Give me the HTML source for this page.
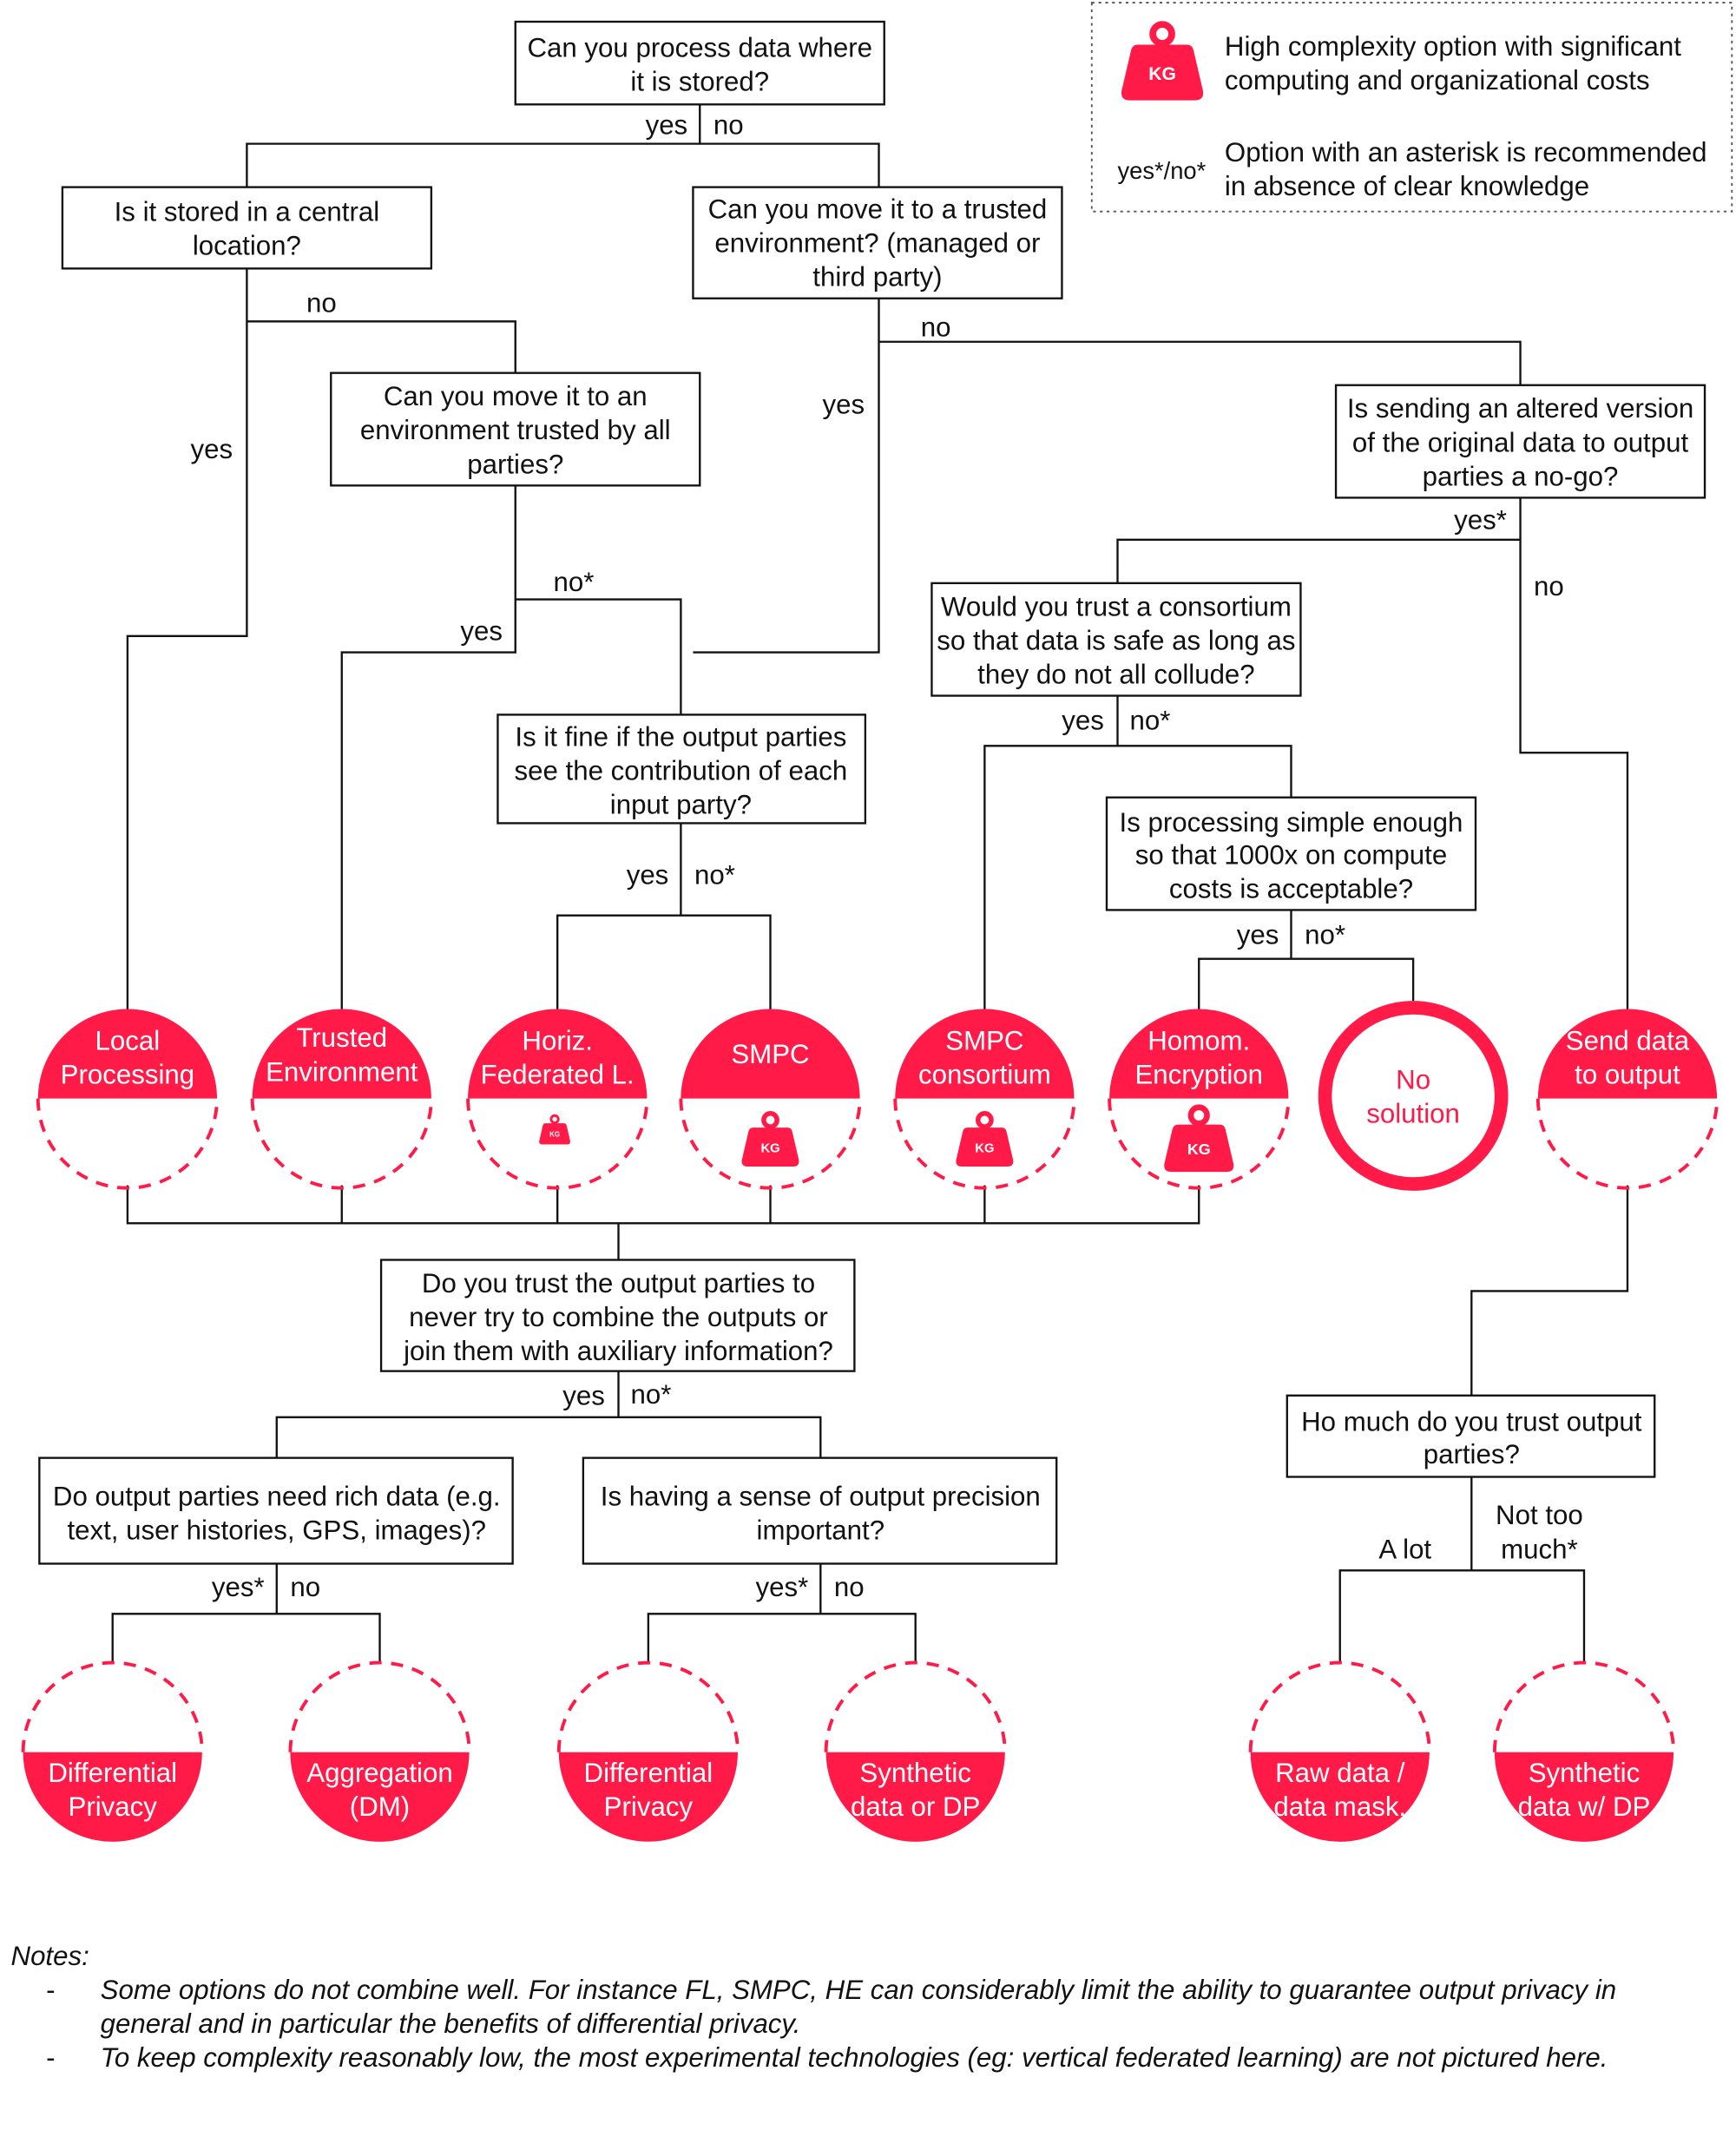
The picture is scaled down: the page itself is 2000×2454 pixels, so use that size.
<!DOCTYPE html>
<html><head><meta charset="utf-8"><style>
html,body{margin:0;padding:0;background:#fff}
svg{display:block}
text{font-family:"Liberation Sans",Arial,sans-serif;font-size:20px;fill:#111}
.w{fill:#fff}
.r{fill:#ff1a48}
.b{fill:#fff;stroke:#111;stroke-width:1.5}
.l{stroke:#111;stroke-width:1.5;fill:none}
.d{fill:none;stroke:#ff1a48;stroke-width:2.5;stroke-dasharray:9 7}
.it{font-style:italic}
</style></head><body>
<svg width="2000" height="2454" viewBox="0 0 1280 1570.6" xmlns="http://www.w3.org/2000/svg">
<defs>
<g id="kg">
<circle cx="0" cy="-23" r="7" fill="none" stroke="#ff1a48" stroke-width="5"/>
<path d="M-18,-15 L18,-15 Q22,-15 23,-11 L30,19 Q31,26 24,26 L-24,26 Q-31,26 -30,19 L-23,-11 Q-22,-15 -18,-15 Z" fill="#ff1a48"/>
<text x="0" y="11" text-anchor="middle" style="font-size:13.5px;font-weight:bold;fill:#fff">KG</text>
</g>
</defs>

<!-- legend -->
<rect x="805" y="2" width="472" height="154" fill="none" stroke="#555" stroke-width="1.2" stroke-dasharray="2 3"/>
<use href="#kg" x="857" y="48"/>
<text x="903" y="41">High complexity option with significant</text>
<text x="903" y="66">computing and organizational costs</text>
<text x="824" y="132" style="font-size:17.5px">yes*/no*</text>
<text x="903" y="119">Option with an asterisk is recommended</text>
<text x="903" y="144">in absence of clear knowledge</text>

<!-- connectors -->
<g class="l">
<path d="M516,77 V106 M182,138 V106 H648 V138"/>
<path d="M182,198 V469 H94 V745"/>
<path d="M182,237 H380 V275"/>
<path d="M380,358 V481 H252 V745"/>
<path d="M380,442 H502 V527"/>
<path d="M648,220 V481 H511"/>
<path d="M648,252 H1121 V284"/>
<path d="M1121,367 V555 H1200 V745"/>
<path d="M1121,398 H824 V430"/>
<path d="M824,513 V550 M726,745 V550 H952 V588"/>
<path d="M952,671 V707 M884,745 V707 H1042 V738"/>
<path d="M502,607 V675 M411,745 V675 H568 V745"/>
<path d="M94,874 V902 H884 V874 M252,874 V902 M411,874 V902 M568,874 V902 M726,874 V902 M456,902 V929"/>
<path d="M456,1011 V1045 M204,1075 V1045 H605 V1075"/>
<path d="M204,1153 V1190 M83,1226 V1190 H280 V1226"/>
<path d="M605,1153 V1190 M478,1226 V1190 H675 V1226"/>
<path d="M1200,874 V952 H1085 V1029"/>
<path d="M1085,1089 V1158 M988,1226 V1158 H1168 V1226"/>
</g>

<!-- boxes -->
<rect class="b" x="380" y="16" width="272" height="61"/>
<text x="516" y="42" text-anchor="middle">Can you process data where</text>
<text x="516" y="67" text-anchor="middle">it is stored?</text>
<text x="507" y="99" text-anchor="end">yes</text><text x="526" y="99">no</text>

<rect class="b" x="46" y="138" width="272" height="60"/>
<text x="182" y="163" text-anchor="middle">Is it stored in a central</text>
<text x="182" y="188" text-anchor="middle">location?</text>

<rect class="b" x="511" y="138" width="272" height="82"/>
<text x="647" y="161" text-anchor="middle">Can you move it to a trusted</text>
<text x="647" y="186" text-anchor="middle">environment? (managed or</text>
<text x="647" y="211" text-anchor="middle">third party)</text>

<text x="237" y="230" text-anchor="middle">no</text>
<text x="156" y="338" text-anchor="middle">yes</text>
<text x="622" y="305" text-anchor="middle">yes</text>
<text x="690" y="248" text-anchor="middle">no</text>

<rect class="b" x="244" y="275" width="272" height="83"/>
<text x="380" y="299" text-anchor="middle">Can you move it to an</text>
<text x="380" y="324" text-anchor="middle">environment trusted by all</text>
<text x="380" y="349" text-anchor="middle">parties?</text>
<text x="423" y="436" text-anchor="middle">no*</text>
<text x="355" y="472" text-anchor="middle">yes</text>

<rect class="b" x="985" y="284" width="272" height="83"/>
<text x="1121" y="308" text-anchor="middle">Is sending an altered version</text>
<text x="1121" y="333" text-anchor="middle">of the original data to output</text>
<text x="1121" y="358" text-anchor="middle">parties a no-go?</text>
<text x="1111" y="390" text-anchor="end">yes*</text>
<text x="1142" y="439" text-anchor="middle">no</text>

<rect class="b" x="687" y="430" width="272" height="83"/>
<text x="823" y="454" text-anchor="middle">Would you trust a consortium</text>
<text x="823" y="479" text-anchor="middle">so that data is safe as long as</text>
<text x="823" y="504" text-anchor="middle">they do not all collude?</text>
<text x="814" y="538" text-anchor="end">yes</text><text x="833" y="538">no*</text>

<rect class="b" x="367" y="527" width="271" height="80"/>
<text x="502" y="550" text-anchor="middle">Is it fine if the output parties</text>
<text x="502" y="575" text-anchor="middle">see the contribution of each</text>
<text x="502" y="600" text-anchor="middle">input party?</text>
<text x="493" y="652" text-anchor="end">yes</text><text x="512" y="652">no*</text>

<rect class="b" x="816" y="588" width="272" height="83"/>
<text x="952" y="613" text-anchor="middle">Is processing simple enough</text>
<text x="952" y="637" text-anchor="middle">so that 1000x on compute</text>
<text x="952" y="662" text-anchor="middle">costs is acceptable?</text>
<text x="943" y="696" text-anchor="end">yes</text><text x="962" y="696">no*</text>

<!-- row 1 circles: top filled -->
<g>
<path class="r" d="M28,810 A66,66 0 0 1 160,810 Z"/><path class="d" d="M28,810 A66,66 0 0 0 160,810"/>
<text class="w" x="94" y="774" text-anchor="middle">Local</text><text class="w" x="94" y="799" text-anchor="middle">Processing</text>

<path class="r" d="M186,810 A66,66 0 0 1 318,810 Z"/><path class="d" d="M186,810 A66,66 0 0 0 318,810"/>
<text class="w" x="252" y="772" text-anchor="middle">Trusted</text><text class="w" x="252" y="797" text-anchor="middle">Environment</text>

<path class="r" d="M345,810 A66,66 0 0 1 477,810 Z"/><path class="d" d="M345,810 A66,66 0 0 0 477,810"/>
<text class="w" x="411" y="774" text-anchor="middle">Horiz.</text><text class="w" x="411" y="799" text-anchor="middle">Federated L.</text>
<use href="#kg" transform="translate(409,834) scale(0.38)"/>

<path class="r" d="M502,810 A66,66 0 0 1 634,810 Z"/><path class="d" d="M502,810 A66,66 0 0 0 634,810"/>
<text class="w" x="568" y="784" text-anchor="middle">SMPC</text>
<use href="#kg" transform="translate(568,842) scale(0.7)"/>

<path class="r" d="M660,810 A66,66 0 0 1 792,810 Z"/><path class="d" d="M660,810 A66,66 0 0 0 792,810"/>
<text class="w" x="726" y="774" text-anchor="middle">SMPC</text><text class="w" x="726" y="799" text-anchor="middle">consortium</text>
<use href="#kg" transform="translate(726,842) scale(0.7)"/>

<path class="r" d="M818,810 A66,66 0 0 1 950,810 Z"/><path class="d" d="M818,810 A66,66 0 0 0 950,810"/>
<text class="w" x="884" y="774" text-anchor="middle">Homom.</text><text class="w" x="884" y="799" text-anchor="middle">Encryption</text>
<use href="#kg" transform="translate(884,842) scale(0.85)"/>

<circle cx="1042" cy="808" r="65" fill="none" stroke="#ff1a48" stroke-width="10"/>
<text class="r" x="1042" y="803" text-anchor="middle">No</text><text class="r" x="1042" y="828" text-anchor="middle">solution</text>

<path class="r" d="M1134,810 A66,66 0 0 1 1266,810 Z"/><path class="d" d="M1134,810 A66,66 0 0 0 1266,810"/>
<text class="w" x="1200" y="774" text-anchor="middle">Send data</text><text class="w" x="1200" y="799" text-anchor="middle">to output</text>
</g>

<rect class="b" x="281" y="929" width="349" height="82"/>
<text x="456" y="953" text-anchor="middle">Do you trust the output parties to</text>
<text x="456" y="978" text-anchor="middle">never try to combine the outputs or</text>
<text x="456" y="1003" text-anchor="middle">join them with auxiliary information?</text>
<text x="446" y="1036" text-anchor="end">yes</text><text x="465" y="1035">no*</text>

<rect class="b" x="29" y="1075" width="349" height="78"/>
<text x="204" y="1110" text-anchor="middle">Do output parties need rich data (e.g.</text>
<text x="204" y="1135" text-anchor="middle">text, user histories, GPS, images)?</text>
<text x="195" y="1177" text-anchor="end">yes*</text><text x="214" y="1177">no</text>

<rect class="b" x="430" y="1075" width="349" height="78"/>
<text x="605" y="1110" text-anchor="middle">Is having a sense of output precision</text>
<text x="605" y="1135" text-anchor="middle">important?</text>
<text x="596" y="1177" text-anchor="end">yes*</text><text x="615" y="1177">no</text>

<rect class="b" x="949" y="1029" width="271" height="60"/>
<text x="1085" y="1055" text-anchor="middle">Ho much do you trust output</text>
<text x="1085" y="1079" text-anchor="middle">parties?</text>
<text x="1036" y="1149" text-anchor="middle">A lot</text>
<text x="1135" y="1124" text-anchor="middle">Not too</text>
<text x="1135" y="1149" text-anchor="middle">much*</text>

<!-- row 2 circles: bottom filled -->
<g>
<path class="d" d="M17,1292 A66,66 0 0 1 149,1292"/><path class="r" d="M17,1292 A66,66 0 0 0 149,1292 Z"/>
<text class="w" x="83" y="1314" text-anchor="middle">Differential</text><text class="w" x="83" y="1339" text-anchor="middle">Privacy</text>
<path class="d" d="M214,1292 A66,66 0 0 1 346,1292"/><path class="r" d="M214,1292 A66,66 0 0 0 346,1292 Z"/>
<text class="w" x="280" y="1314" text-anchor="middle">Aggregation</text><text class="w" x="280" y="1339" text-anchor="middle">(DM)</text>
<path class="d" d="M412,1292 A66,66 0 0 1 544,1292"/><path class="r" d="M412,1292 A66,66 0 0 0 544,1292 Z"/>
<text class="w" x="478" y="1314" text-anchor="middle">Differential</text><text class="w" x="478" y="1339" text-anchor="middle">Privacy</text>
<path class="d" d="M609,1292 A66,66 0 0 1 741,1292"/><path class="r" d="M609,1292 A66,66 0 0 0 741,1292 Z"/>
<text class="w" x="675" y="1314" text-anchor="middle">Synthetic</text><text class="w" x="675" y="1339" text-anchor="middle">data or DP</text>
<path class="d" d="M922,1292 A66,66 0 0 1 1054,1292"/><path class="r" d="M922,1292 A66,66 0 0 0 1054,1292 Z"/>
<text class="w" x="988" y="1314" text-anchor="middle">Raw data /</text><text class="w" x="988" y="1339" text-anchor="middle">data mask.</text>
<path class="d" d="M1102,1292 A66,66 0 0 1 1234,1292"/><path class="r" d="M1102,1292 A66,66 0 0 0 1234,1292 Z"/>
<text class="w" x="1168" y="1314" text-anchor="middle">Synthetic</text><text class="w" x="1168" y="1339" text-anchor="middle">data w/ DP</text>
</g>

<!-- notes -->
<text class="it" x="8" y="1449">Notes:</text>
<text x="34" y="1474">-</text>
<text class="it" x="74" y="1474">Some options do not combine well. For instance FL, SMPC, HE can considerably limit the ability to guarantee output privacy in</text>
<text class="it" x="74" y="1499">general and in particular the benefits of differential privacy.</text>
<text x="34" y="1524">-</text>
<text class="it" x="74" y="1524">To keep complexity reasonably low, the most experimental technologies (eg: vertical federated learning) are not pictured here.</text>
</svg>
</body></html>
